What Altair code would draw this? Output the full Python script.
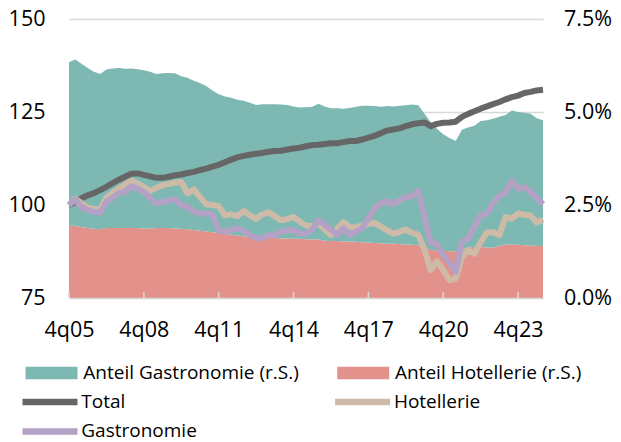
import json
import altair as alt
import pandas as pd

FONT = "Open Sans"

# categories: quarters 4q05 .. 4q24
quarters = []
q, yy = 4, 5
for _ in range(77):
    quarters.append(f"{q}q{yy:02d}")
    q += 1
    if q == 5:
        q, yy = 1, yy + 1

tick_labels = ["4q05", "4q08", "4q11", "4q14", "4q17", "4q20", "4q23"]

# shares in % (right axis)
share_hotel = [
    1.94, 1.94, 1.91, 1.88, 1.86, 1.85, 1.88, 1.88, 1.88, 1.88,
    1.88, 1.88, 1.87, 1.87, 1.88, 1.88, 1.88, 1.87, 1.86, 1.85,
    1.83, 1.81, 1.79, 1.77, 1.75, 1.73, 1.70, 1.68, 1.66, 1.64,
    1.62, 1.62, 1.61, 1.61, 1.60, 1.60, 1.59, 1.59, 1.58, 1.58,
    1.57, 1.54, 1.53, 1.53, 1.52, 1.52, 1.51, 1.50, 1.49, 1.48,
    1.47, 1.46, 1.46, 1.45, 1.44, 1.43, 1.42, 1.36, 1.30, 1.28,
    1.27, 1.26, 1.26, 1.30, 1.36, 1.37, 1.37, 1.36, 1.35, 1.40,
    1.44, 1.44, 1.43, 1.42, 1.41, 1.40, 1.40,
]
share_gastro = [
    4.40, 4.47, 4.39, 4.30, 4.22, 4.17, 4.26, 4.29, 4.30, 4.28,
    4.29, 4.27, 4.25, 4.21, 4.14, 4.16, 4.17, 4.17, 4.10, 4.07,
    4.01, 3.97, 3.91, 3.81, 3.73, 3.69, 3.68, 3.65, 3.64, 3.61,
    3.57, 3.59, 3.60, 3.60, 3.60, 3.59, 3.56, 3.53, 3.55, 3.56,
    3.65, 3.61, 3.57, 3.57, 3.57, 3.59, 3.63, 3.67, 3.68, 3.68,
    3.67, 3.70, 3.69, 3.72, 3.74, 3.77, 3.76, 3.59, 3.42, 3.27,
    3.13, 3.04, 2.96, 3.22, 3.22, 3.26, 3.39, 3.42, 3.47, 3.47,
    3.48, 3.60, 3.57, 3.56, 3.54, 3.43, 3.38,
]

# indices (left axis, 4q05 = 100)
idx_total = [
    100.0, 100.8, 101.8, 102.6, 103.2, 104.0, 104.9, 105.9, 106.8, 107.6,
    108.4, 108.5, 108.1, 107.7, 107.3, 107.3, 107.6, 108.0, 108.2, 108.6,
    108.9, 109.4, 109.8, 110.3, 110.8, 111.5, 112.2, 112.8, 113.2, 113.5,
    113.8, 114.0, 114.3, 114.5, 114.6, 114.9, 115.2, 115.4, 115.8, 116.1,
    116.2, 116.4, 116.6, 116.6, 116.9, 117.2, 117.2, 117.6, 118.1, 118.6,
    119.3, 120.0, 120.3, 120.6, 121.2, 121.7, 122.0, 122.2, 121.2, 121.8,
    122.1, 122.2, 122.4, 123.7, 124.5, 125.2, 125.9, 126.5, 127.1, 127.7,
    128.4, 129.0, 129.4, 130.1, 130.4, 130.8, 131.0,
]
idx_hotel = [
    100.0, 101.7, 100.5, 99.3, 98.9, 98.8, 102.0, 103.3, 104.4, 105.5,
    106.6, 105.8, 104.8, 103.8, 104.6, 105.3, 105.6, 106.0, 106.2, 103.1,
    104.2, 102.2, 100.2, 100.0, 99.7, 97.2, 97.5, 97.0, 98.4, 97.2,
    96.3, 97.5, 98.0, 97.0, 95.9, 96.2, 96.8, 95.5, 94.5, 94.3,
    95.0, 93.4, 91.9, 93.6, 95.4, 94.1, 94.0, 94.5, 94.9, 95.2,
    94.2, 93.2, 92.3, 92.8, 93.4, 92.5, 92.0, 88.0, 82.5, 84.8,
    82.5, 79.8, 80.2, 86.0, 87.8, 86.9, 90.0, 92.6, 92.7, 91.9,
    96.8, 96.3, 97.7, 97.4, 97.2, 95.3, 96.1,
]
idx_gastro = [
    100.0, 101.5, 99.5, 98.6, 98.2, 97.9, 100.8, 102.0, 103.2, 103.6,
    105.0, 104.4, 103.5, 102.0, 100.4, 100.8, 101.3, 101.5, 100.0, 99.5,
    98.3, 97.7, 97.7, 97.5, 93.2, 92.7, 93.3, 93.7, 93.0, 91.9,
    91.0, 91.2, 91.9, 91.9, 92.8, 93.2, 93.2, 92.4, 92.3, 93.5,
    95.9, 94.7, 93.4, 92.0, 93.7, 91.9, 92.8, 93.7, 96.5, 99.0,
    100.5, 101.0, 100.2, 101.2, 102.2, 102.3, 103.8, 96.8, 89.8, 89.5,
    86.5, 84.5, 82.0, 90.1, 91.0, 94.0, 97.2, 97.7, 100.5, 102.4,
    103.4, 106.6, 104.4, 104.8, 103.6, 101.8, 100.2,
]

area_names = ["Anteil Gastronomie (r.S.)", "Anteil Hotellerie (r.S.)"]
area_colors = ["#7DB8B2", "#E3918B"]
line_names = ["Total", "Hotellerie", "Gastronomie"]
line_colors = {"Total": "#666666", "Hotellerie": "#CDBBA8", "Gastronomie": "#B3A1C6"}
legend_line_order = ["Total", "Gastronomie", "Hotellerie"]  # column-major legend fill

rows_area = []
for i, qq in enumerate(quarters):
    rows_area.append({"i": i, "quarter": qq, "series": area_names[1], "share": share_hotel[i] / 100, "ord": 0})
    rows_area.append({"i": i, "quarter": qq, "series": area_names[0], "share": share_gastro[i] / 100, "ord": 1})
df_area = pd.DataFrame(rows_area)

rows_line = []
for name, vals in zip(line_names, [idx_total, idx_hotel, idx_gastro]):
    for i, (qq, v) in enumerate(zip(quarters, vals)):
        rows_line.append({"i": i, "quarter": qq, "series": name, "idx": v})
df_line = pd.DataFrame(rows_line)

tick_pos = [quarters.index(t) for t in tick_labels]
df_ticks = pd.DataFrame({"i": tick_pos, "quarter": tick_labels})
label_expr = f"{json.dumps(tick_labels)}[indexof({json.dumps(tick_pos)}, datum.value)]"

GRID = "#d9d9d9"

x_enc = alt.X(
    "i:Q",
    scale=alt.Scale(domain=[0, len(quarters) - 1], nice=False, zero=False),
    axis=alt.Axis(values=tick_pos, labelExpr=label_expr, labelAngle=0, title=None,
                  labelFont=FONT, labelFontSize=21.5, labelColor="#000000",
                  labelBaseline="alphabetic", labelPadding=38.5, ticks=False,
                  labelFlush=False, labelOverlap=False,
                  domainColor=GRID, domainWidth=1.5, grid=False, zindex=1),
)

fill_legend = alt.Legend(
    orient="none", legendX=-53, legendY=344.3, columns=2, columnPadding=28.7,
    title=None, labelFont=FONT, labelFontSize=19, labelColor="#000000",
    labelOffset=48.3, symbolType="M0,-6.2H52V6.2H0Z", symbolSize=4,
    symbolStrokeWidth=0, padding=0, labelLimit=400,
)
stroke_legend = alt.Legend(
    orient="none", legendX=-56, legendY=373.3, columns=2, columnPadding=124.6,
    rowPadding=2.6, title=None, labelFont=FONT, labelFontSize=19, labelColor="#000000",
    labelOffset=49.3, symbolType="M0,0H55", symbolSize=4, symbolStrokeWidth=6.5,
    padding=0, labelLimit=400,
)

area = alt.Chart(df_area).mark_area(opacity=1).encode(
    x=x_enc,
    y=alt.Y("share:Q", stack="zero",
            scale=alt.Scale(domain=[0, 0.075], nice=False),
            axis=alt.Axis(orient="right", values=[0, 0.025, 0.05, 0.075], format=".1%",
                          title=None, labelFont=FONT, labelFontSize=21.5, labelColor="#000000",
                          labelAlign="left", labelPadding=20.5, ticks=False, domain=False, grid=False)),
    fill=alt.Fill("series:N", scale=alt.Scale(domain=area_names, range=area_colors), legend=fill_legend),
    order=alt.Order("ord:Q"),
)

y_line = alt.Y("idx:Q", scale=alt.Scale(domain=[75, 150], nice=False, zero=False),
               axis=alt.Axis(orient="left", values=[75, 100, 125, 150], title=None,
                             labelFont=FONT, labelFontSize=21.5, labelColor="#000000",
                             labelPadding=24, ticks=False, domain=False, grid=True,
                             gridColor=GRID, gridWidth=1.5))
stroke_enc = alt.Stroke("series:N",
                        scale=alt.Scale(domain=legend_line_order,
                                        range=[line_colors[n] for n in legend_line_order]),
                        legend=stroke_legend)

tick_marks = alt.Chart(df_ticks).mark_rule(color=GRID, strokeWidth=1.5).encode(
    x=x_enc, y=alt.datum(75), y2=alt.datum(76.6)
)

line_layers = [tick_marks]
for name in line_names:
    line_layers.append(
        alt.Chart(df_line).transform_filter(alt.datum.series == name)
        .mark_line(strokeWidth=6, strokeJoin="round")
        .encode(x=x_enc, y=y_line, stroke=stroke_enc, order="i:Q")
    )
lines = alt.layer(*line_layers)

chart = alt.layer(area, lines).resolve_scale(y="independent").properties(
    width=474, height=279,
    autosize=alt.AutoSizeParams(type="none"),
    padding={"left": 61, "top": 11, "right": 70, "bottom": 144},
).configure_view(stroke=None)

chart.save("out.html", embed_options={"renderer": "svg", "actions": False})
